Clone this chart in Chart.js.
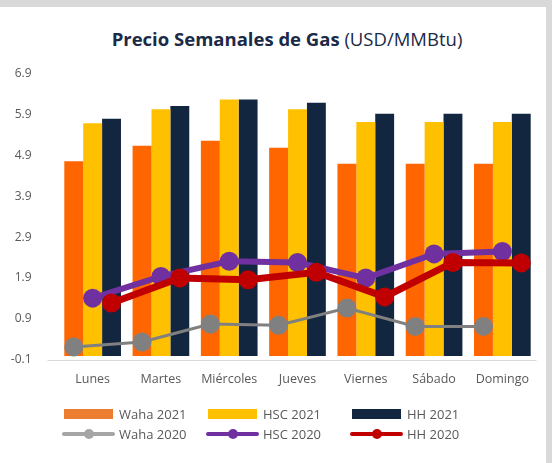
<!DOCTYPE html>
<html>
<head>
<meta charset="utf-8">
<script src="https://cdn.jsdelivr.net/npm/chart.js@4.4.1/dist/chart.umd.min.js"></script>
<style>
  html, body { margin: 0; padding: 0; }
  body { width: 552px; height: 463px; background: #d9d9d9; position: relative; overflow: hidden; font-family: "Open Sans", sans-serif; }
  .card { position: absolute; left: 0; top: 7px; width: 546px; height: 456px; background: #fff; }
  .title { position: absolute; left: 0; width: 574px; top: 19px; text-align: center; font-size: 18.5px; color: #1b2a47; white-space: nowrap; }
  .title b { font-weight: 700; }
  .chart-box { position: absolute; left: 0; top: 43px; width: 546px; height: 356px; }
  .legend { position: absolute; left: 62px; top: 397px; }
  .legend .row { display: flex; height: 20px; align-items: center; }
  .legend .item { width: 144px; display: flex; align-items: center; font-size: 13px; color: #595959; }
  .mk { width: 53px; height: 12px; position: relative; margin-right: 4px; flex: none; }
  .mk .rect { position: absolute; left: 2px; top: 1px; width: 49px; height: 10px; }
  .mk .ln { position: absolute; left: 0; top: 4px; width: 53px; height: 4px; border-radius: 2px; }
  .mk .dot { position: absolute; left: 22px; top: 1px; width: 10px; height: 10px; border-radius: 50%; }
</style>
</head>
<body>
<div class="card">
  <div class="title"><b>Precio Semanales de Gas</b> (USD/MMBtu)</div>
  <div class="chart-box"><canvas id="gasChart"></canvas></div>
  <div class="legend" id="legend"></div>
</div>
<script>
// datos
const dias = ['Lunes', 'Martes', 'Miércoles', 'Jueves', 'Viernes', 'Sábado', 'Domingo']
const yTicks = [-0.1, 0.9, 1.9, 2.9, 3.9, 4.9, 5.9, 6.9]

const waha2021 = [4.75, 5.13, 5.25, 5.08, 4.69, 4.69, 4.69]
const hsc2021 = [5.68, 6.02, 6.26, 6.02, 5.71, 5.71, 5.71]
const hh2021 = [5.79, 6.10, 6.26, 6.18, 5.91, 5.91, 5.91]

const waha2020 = [0.22, 0.34, 0.78, 0.75, 1.17, 0.72, 0.72]
const hsc2020 = [1.41, 1.94, 2.31, 2.28, 1.90, 2.49, 2.55]
const hh2020 = [1.29, 1.90, 1.86, 2.04, 1.44, 2.28, 2.27]

const initGasChart = () => {
  const ctx = document.getElementById('gasChart')
  if (!ctx || typeof Chart === 'undefined') return

  const barra = (label, data, color) => ({
    type: 'bar', label, data, backgroundColor: color, order: 3,
    categoryPercentage: 0.83, barPercentage: 1
  })
  const linea = (label, data, color, width, order, barIndex) => ({
    type: 'line', label, data, borderColor: color, backgroundColor: color,
    borderWidth: width, pointRadius: 9.5, pointBackgroundColor: color,
    pointBorderWidth: 0, tension: 0, order, barIndex
  })

  // los puntos de cada linea se alinean con la barra de su serie
  const alinearPuntos = {
    id: 'alinearPuntos',
    afterDatasetsUpdate(chart) {
      chart.data.datasets.forEach((ds, i) => {
        if (ds.barIndex === undefined) return
        const bars = chart.getDatasetMeta(ds.barIndex).data
        const meta = chart.getDatasetMeta(i)
        meta.data.forEach((pt, j) => { if (bars[j]) pt.x = bars[j].x })
        if (meta.dataset) meta.dataset._path = undefined
      })
    }
  }

  new Chart(ctx, {
    data: {
      labels: dias,
      datasets: [
        barra('Waha 2021', waha2021, '#ff6600'),
        barra('HSC 2021', hsc2021, '#ffc000'),
        barra('HH 2021', hh2021, '#13263f'),
        linea('Waha 2020', waha2020, '#808080', 3, 2, 0),
        linea('HSC 2020', hsc2020, '#7030a0', 6, 1, 1),
        linea('HH 2020', hh2020, '#c00000', 7, 0, 2)
      ]
    },
    options: {
      responsive: true,
      maintainAspectRatio: false,
      animation: false,
      events: [],
      layout: { padding: { top: 22, right: 8, bottom: 7, left: 0 } },
      plugins: { legend: { display: false }, tooltip: { enabled: false } },
      scales: {
        x: {
          grid: { display: false, drawTicks: false },
          border: { display: false },
          ticks: { color: '#595959', padding: 12, font: { family: 'Open Sans', size: 12.5 } }
        },
        y: {
          min: -0.1,
          max: 6.9,
          afterBuildTicks: (scale) => { scale.ticks = yTicks.map(v => ({ value: v })) },
          afterFit: (scale) => { scale.width = 58.5 },
          border: { display: false },
          grid: {
            drawTicks: true,
            tickLength: 11,
            color: (c) => c.index === 0 ? '#d9d9d9' : 'rgba(0,0,0,0)'
          },
          ticks: {
            color: '#595959', padding: 16,
            font: { family: 'Open Sans', size: 12 },
            callback: (v) => Number(v).toFixed(1)
          }
        }
      }
    },
    plugins: [alinearPuntos]
  })

  // leyenda en html, tres columnas
  const leyenda = [
    [['Waha 2021', '#ed7d31', 'rect'], ['HSC 2021', '#ffc000', 'rect'], ['HH 2021', '#13263f', 'rect']],
    [['Waha 2020', '#a5a5a5', 'line'], ['HSC 2020', '#7030a0', 'line'], ['HH 2020', '#c00000', 'line']]
  ]
  const box = document.getElementById('legend')
  leyenda.forEach(fila => {
    const row = document.createElement('div')
    row.className = 'row'
    fila.forEach(([txt, color, tipo]) => {
      const item = document.createElement('div')
      item.className = 'item'
      const mk = tipo === 'rect'
        ? `<span class="mk"><span class="rect" style="background:${color}"></span></span>`
        : `<span class="mk"><span class="ln" style="background:${color}"></span><span class="dot" style="background:${color}"></span></span>`
      item.innerHTML = mk + `<span>${txt}</span>`
      row.appendChild(item)
    })
    box.appendChild(row)
  })
}

initGasChart()
</script>
</body>
</html>
